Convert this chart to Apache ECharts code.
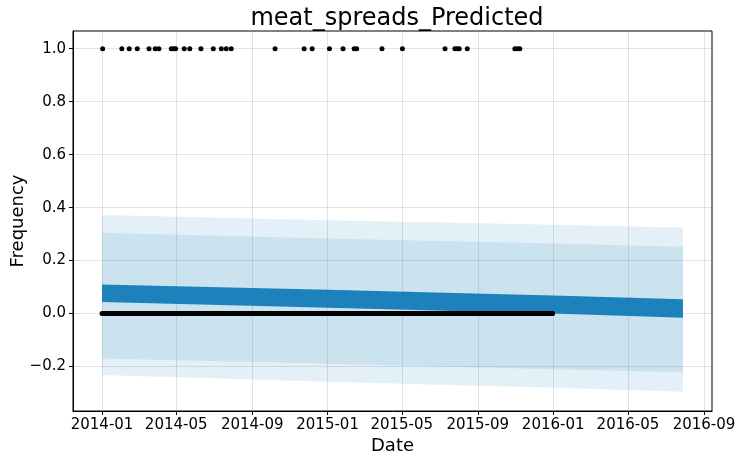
<!DOCTYPE html>
<html style="height: 100%">
<head>
    <meta charset="utf-8">
    <title>meat_spreads_Predicted</title>
    <script src="https://cdn.jsdelivr.net/npm/echarts/dist/echarts.min.js"></script>
</head>
<body style="height: 100%; margin: 0; background: #fff">
    <div id="main" style="width: 742px; height: 462px"></div>
    <script type="text/javascript">
        // observed history: 0 every day, 1 on these dates
        var obsStart = '2014-01-01';
        var obsEnd = '2015-12-31';
        var onesDates = [
            '2014-01-02', '2014-02-02', '2014-02-14', '2014-02-27', '2014-03-18',
            '2014-03-28', '2014-04-03', '2014-04-23', '2014-04-27', '2014-04-30',
            '2014-05-14', '2014-05-23', '2014-06-10', '2014-06-30', '2014-07-13',
            '2014-07-21', '2014-07-29', '2014-10-08', '2014-11-24', '2014-12-07',
            '2015-01-04', '2015-01-26', '2015-02-13', '2015-02-17', '2015-03-30',
            '2015-05-02', '2015-07-10', '2015-07-26', '2015-07-30', '2015-08-02',
            '2015-08-15', '2015-10-31', '2015-11-04', '2015-11-08'
        ];

        // forecast at a few dates
        var fcstDates = ['2014-01-01', '2015-01-01', '2016-01-01', '2016-07-29'];
        var yhatTop = [0.110, 0.090, 0.068, 0.054];
        var yhatBottom = [0.044, 0.022, 0.000, -0.016];
        var upperOuter = [0.372, 0.352, 0.335, 0.325];
        var upperInner = [0.305, 0.283, 0.265, 0.252];
        var lowerInner = [-0.170, -0.190, -0.210, -0.222];
        var lowerOuter = [-0.232, -0.258, -0.280, -0.295];

        // axis ticks
        var xTickDates = ['2014-01-01', '2014-05-01', '2014-09-01', '2015-01-01', '2015-05-01',
            '2015-09-01', '2016-01-01', '2016-05-01', '2016-09-01'];
        var yTicks = [-0.2, 0, 0.2, 0.4, 0.6, 0.8, 1.0];

        var BASE = Date.UTC(2014, 0, 1);
        function dayOf(s) {
            var p = s.split('-');
            return Math.round((Date.UTC(+p[0], +p[1] - 1, +p[2]) - BASE) / 86400000);
        }

        var onesSet = {};
        var ones = onesDates.map(function (s) { onesSet[dayOf(s)] = true; return [dayOf(s), 1]; });
        var zeros = [];
        for (var d = dayOf(obsStart); d <= dayOf(obsEnd); d++) {
            if (!onesSet[d]) zeros.push([d, 0]);
        }

        var fcstDays = fcstDates.map(dayOf);
        var xTickDays = xTickDates.map(dayOf);
        var xTickLabels = {};
        xTickDates.forEach(function (s) { xTickLabels[dayOf(s)] = s.slice(0, 7); });

        function band(upper, lower, color, opacity, z) {
            return {
                type: 'custom',
                silent: true,
                z: z,
                data: [[0, 0]],
                renderItem: function (params, api) {
                    var pts = [];
                    for (var i = 0; i < fcstDays.length; i++) pts.push(api.coord([fcstDays[i], upper[i]]));
                    for (var j = fcstDays.length - 1; j >= 0; j--) pts.push(api.coord([fcstDays[j], lower[j]]));
                    return {
                        type: 'polygon',
                        shape: { points: pts },
                        style: { fill: color, opacity: opacity }
                    };
                }
            };
        }

        var font = 'DejaVu Sans';
        var myChart = echarts.init(document.getElementById('main'));
        var option = {
            backgroundColor: '#fff',
            animation: false,
            title: {
                text: 'meat_spreads_Predicted',
                left: 392,
                top: 2,
                textAlign: 'center',
                textStyle: { fontFamily: font, fontSize: 24, fontWeight: 'normal', color: '#000' }
            },
            grid: {
                left: 73, right: 30, top: 31, bottom: 51,
                show: true, borderColor: '#000', borderWidth: 1,
                outerBoundsMode: 'none'
            },
            xAxis: {
                type: 'value',
                min: -47,
                max: 987,
                name: 'Date',
                nameLocation: 'middle',
                nameGap: 26,
                nameMoveOverlap: false,
                nameTextStyle: { fontFamily: font, fontSize: 18, color: '#000' },
                axisLine: { show: true, onZero: false, lineStyle: { color: '#000', width: 1 } },
                axisTick: { show: true, length: 4, customValues: xTickDays, lineStyle: { color: '#000' } },
                axisLabel: {
                    customValues: xTickDays,
                    margin: 7,
                    fontFamily: font, fontSize: 15, color: '#000',
                    formatter: function (v) { return xTickLabels[Math.round(v)] || ''; }
                },
                splitLine: { show: true, lineStyle: { color: 'rgba(128,128,128,0.22)', width: 1 } }
            },
            yAxis: {
                type: 'value',
                min: -0.368,
                max: 1.067,
                name: 'Frequency',
                nameLocation: 'middle',
                nameGap: 46,
                nameMoveOverlap: false,
                nameTextStyle: { fontFamily: font, fontSize: 18, color: '#000' },
                axisLine: { show: true, onZero: false, lineStyle: { color: '#000', width: 1 } },
                axisTick: { show: true, length: 4, customValues: yTicks, lineStyle: { color: '#000' } },
                axisLabel: {
                    customValues: yTicks,
                    margin: 7,
                    fontFamily: font, fontSize: 15, color: '#000',
                    formatter: function (v) { return (v < 0 ? '\u2212' : '') + Math.abs(v).toFixed(1); }
                },
                splitLine: { show: true, lineStyle: { color: 'rgba(128,128,128,0.22)', width: 1 } }
            },
            series: [
                band(upperOuter, lowerOuter, '#0072B2', 0.11, 1),
                band(upperInner, lowerInner, '#0072B2', 0.101, 2),
                band(yhatTop, yhatBottom, '#0072B2', 0.86, 3),
                {
                    type: 'scatter',
                    name: 'zeros',
                    data: zeros,
                    symbolSize: 5,
                    itemStyle: { color: '#000', opacity: 1 },
                    silent: true,
                    z: 4
                },
                {
                    type: 'scatter',
                    name: 'ones',
                    data: ones,
                    symbolSize: 5,
                    itemStyle: { color: '#000', opacity: 1 },
                    silent: true,
                    z: 4
                }
            ]
        };
        myChart.setOption(option);
    </script>
</body>
</html>
